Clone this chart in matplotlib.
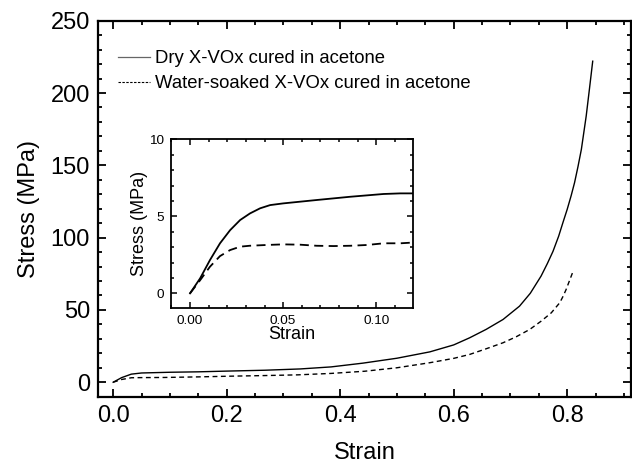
import numpy as np
import matplotlib.pyplot as plt
from matplotlib.ticker import MultipleLocator

plt.rcParams['font.family'] = ['Liberation Sans', 'DejaVu Sans']

# full stress-strain curves
strain_dry = [0.0, 0.015, 0.032, 0.05, 0.1, 0.15, 0.2, 0.267, 0.33, 0.384, 0.44, 0.5,
              0.558, 0.6, 0.628, 0.657, 0.687, 0.716, 0.735, 0.754, 0.765, 0.775,
              0.785, 0.793, 0.8, 0.807, 0.813, 0.819, 0.825, 0.8335, 0.8393, 0.845]
stress_dry = [0.0, 3.2, 5.6, 6.4, 6.9, 7.2, 7.7, 8.3, 9.2, 10.6, 13.2, 16.6,
              21.0, 25.8, 30.7, 36.5, 43.4, 52.6, 61.5, 73.4, 82.0, 90.5,
              101.0, 111.0, 119.5, 129.0, 138.0, 149.0, 161.0, 184.0, 203.0, 222.0]

strain_wet = [0.0, 0.015, 0.032, 0.05, 0.09, 0.15, 0.208, 0.265, 0.325, 0.384, 0.443, 0.5,
              0.558, 0.6, 0.628, 0.657, 0.687, 0.71, 0.734, 0.754, 0.772, 0.787,
              0.793, 0.798, 0.81]
stress_wet = [0.0, 1.9, 3.1, 3.2, 3.3, 3.7, 4.2, 4.6, 5.1, 6.1, 7.6, 10.0,
              13.5, 16.5, 19.2, 23.1, 27.3, 31.4, 36.5, 42.2, 48.0, 55.0,
              59.6, 64.0, 76.3]

# early part of the same tests (inset)
strain_dry_in = [0.0, 0.0054, 0.0107, 0.0161, 0.0215, 0.0269, 0.0322, 0.0376, 0.043,
                 0.05, 0.068, 0.0859, 0.1038, 0.1128, 0.12]
stress_dry_in = [0.0, 0.97, 2.16, 3.25, 4.1, 4.76, 5.19, 5.52, 5.73,
                 5.84, 6.06, 6.27, 6.45, 6.49, 6.49]

strain_wet_in = [0.0, 0.0054, 0.0107, 0.0161, 0.0215, 0.0269, 0.032, 0.041, 0.05,
                 0.059, 0.068, 0.077, 0.086, 0.095, 0.104, 0.113, 0.12]
stress_wet_in = [0.0, 0.85, 1.73, 2.42, 2.81, 3.03, 3.09, 3.14, 3.18,
                 3.16, 3.09, 3.07, 3.09, 3.14, 3.25, 3.25, 3.3]

fig = plt.figure(figsize=(6.32, 4.63), dpi=100)
ax = fig.add_axes([0.1557, 0.1432, 0.8423, 0.8121])

ax.plot(strain_dry, stress_dry, color='black', lw=1.0, ls='-',
        label='Dry X-VOx cured in acetone')
ax.plot(strain_wet, stress_wet, color='black', lw=1.0, ls=(0, (3.5, 2.5)),
        label='Water-soaked X-VOx cured in acetone')

ax.set_xlim(-0.026, 0.912)
ax.set_ylim(-10, 250)
ax.xaxis.set_major_locator(MultipleLocator(0.2))
ax.xaxis.set_minor_locator(MultipleLocator(0.05))
ax.yaxis.set_major_locator(MultipleLocator(50))
ax.yaxis.set_minor_locator(MultipleLocator(10))
ax.tick_params(which='both', direction='in', top=True, right=True, width=1.3)
ax.tick_params(which='major', length=5.5, labelsize=17, pad=6)
ax.tick_params(which='minor', length=3)
for s in ax.spines.values():
    s.set_linewidth(1.6)
ax.set_xlabel('Strain', fontsize=17, labelpad=11)
ax.set_ylabel('Stress (MPa)', fontsize=17, labelpad=8)

leg = ax.legend(loc='upper left', bbox_to_anchor=(0.037, 0.921), frameon=False,
                fontsize=13.3, handlelength=1.75, handletextpad=0.25, labelspacing=0.42,
                borderaxespad=0, borderpad=0)
leg.get_lines()[0].set_color('#666666')
leg.get_lines()[0].set_linewidth(0.9)
leg.get_lines()[1].set_linewidth(0.8)
leg.get_lines()[1].set_linestyle((0, (2.2, 1.3)))

# inset with the low-strain region
ins = fig.add_axes([0.2706, 0.3348, 0.3829, 0.3643])
ins.plot(strain_dry_in, stress_dry_in, color='black', lw=1.3, ls='-')
ins.plot(strain_wet_in, stress_wet_in, color='black', lw=1.3, ls=(0, (5, 3)))
ins.set_xlim(-0.0102, 0.1197)
ins.set_ylim(-0.95, 10)
ins.xaxis.set_minor_locator(MultipleLocator(0.01))
ins.yaxis.set_major_locator(MultipleLocator(5))
ins.yaxis.set_minor_locator(MultipleLocator(1))
ins.set_xticks([0.0, 0.05, 0.10])
ins.set_xticklabels(['0.00', '0.05', '0.10'])
ins.tick_params(which='both', direction='in', top=True, right=True, width=1.1)
ins.tick_params(which='major', length=4, labelsize=9.7, pad=5)
ins.tick_params(which='minor', length=2.2)
for s in ins.spines.values():
    s.set_linewidth(1.3)
ins.set_xlabel('Strain', fontsize=13, labelpad=-1)
ins.set_ylabel('Stress (MPa)', fontsize=13, labelpad=1)

fig.savefig('out.png', dpi=100)
